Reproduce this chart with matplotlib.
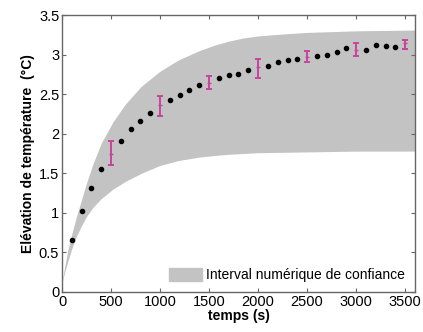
import numpy as np
import matplotlib
matplotlib.use("Agg")
import matplotlib.pyplot as plt
from matplotlib.patches import Patch

plt.rcParams['font.family'] = ['Liberation Sans', 'DejaVu Sans']

# confidence band (numerical interval), upper and lower edges
band_t = [0, 30, 60, 95, 146, 200, 248, 316, 400, 520, 650, 809, 1000, 1184,
          1400, 1558, 1700, 1850, 2000, 2250, 2500, 3000, 3600]
band_hi = [0.12, 0.34, 0.53, 0.71, 0.95, 1.17, 1.37, 1.62, 1.88, 2.15, 2.38, 2.60, 2.79, 2.93,
           3.05, 3.12, 3.17, 3.21, 3.235, 3.26, 3.28, 3.30, 3.31]
band_lo = [0.12, 0.26, 0.39, 0.53, 0.70, 0.84, 0.95, 1.07, 1.18, 1.30, 1.40, 1.50, 1.60, 1.66,
           1.705, 1.725, 1.74, 1.75, 1.76, 1.765, 1.77, 1.78, 1.78]

# measured points
dot_t = [100, 200, 300, 400, 600, 700, 800, 900, 1100, 1200, 1300, 1400,
         1600, 1700, 1800, 1900, 2100, 2200, 2300, 2400, 2600, 2700, 2800, 2900,
         3100, 3200, 3300, 3400]
dot_v = [0.66, 1.02, 1.32, 1.55, 1.91, 2.06, 2.16, 2.26, 2.43, 2.49, 2.55, 2.62,
         2.70, 2.74, 2.76, 2.81, 2.86, 2.90, 2.93, 2.95, 2.98, 3.00, 3.03, 3.08,
         3.06, 3.12, 3.11, 3.10]

# points with error bars
err_t = [500, 1000, 1500, 2000, 2500, 3000, 3500]
err_v = [1.75, 2.36, 2.64, 2.84, 2.97, 3.06, 3.14]
err_lo = [1.61, 2.23, 2.56, 2.71, 2.90, 2.98, 3.07]
err_hi = [1.91, 2.48, 2.73, 2.95, 3.05, 3.15, 3.18]

fig = plt.figure(figsize=(4.23, 3.32), dpi=100)
ax = fig.add_axes([0.1466, 0.1205, 0.8344, 0.8343])

ax.fill_between(band_t, band_lo, band_hi, color='#c3c3c3', linewidth=0)
ax.plot(dot_t, dot_v, 'o', color='black', markersize=3.0)
yerr = [np.array(err_v) - np.array(err_lo), np.array(err_hi) - np.array(err_v)]
ax.errorbar(err_t, err_v, yerr=yerr, fmt='_', color='#c8449e', markersize=3,
            elinewidth=1.4, capsize=2.5, capthick=1.4)

ax.set_xlim(0, 3600)
ax.set_ylim(0, 3.5)
ax.set_xticks(np.arange(0, 3501, 500))
ax.set_yticks(np.arange(0, 3.51, 0.5))
ax.set_yticklabels(['0', '0.5', '1', '1.5', '2', '2.5', '3', '3.5'])
ax.tick_params(direction='in', top=True, right=True, labelsize=10.5,
               length=3, color='#666666', pad=2)
for s in ax.spines.values():
    s.set_color('#666666')
    s.set_linewidth(1.0)

ax.set_xlabel('temps (s)', fontsize=10, fontweight='bold', labelpad=0)
ax.set_ylabel('Elévation de température  (°C)', fontsize=10, fontweight='bold', labelpad=3)

ax.legend(handles=[Patch(color='#c3c3c3', label='Interval numérique de confiance')],
          loc='lower right', frameon=False, fontsize=10, handlelength=2.4,
          handleheight=1.0, handletextpad=0.3, borderaxespad=0.3)

fig.savefig('out.png', dpi=100)
